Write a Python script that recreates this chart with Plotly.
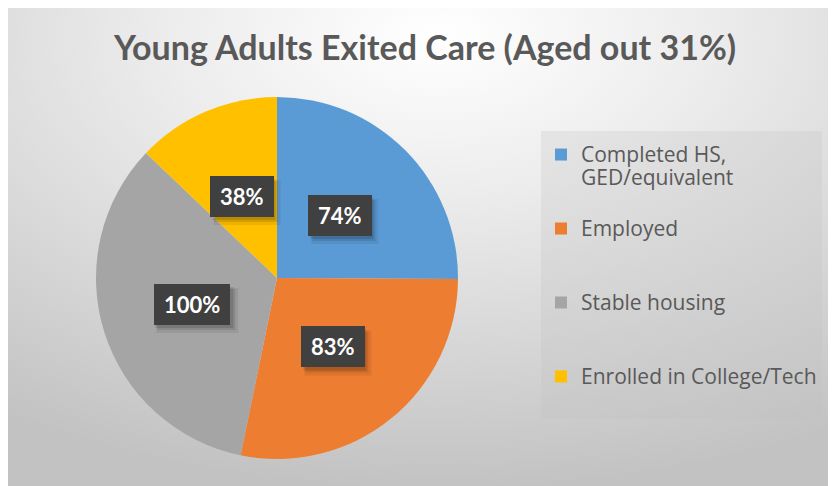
import math, base64
import plotly.graph_objects as go

# ---- data ----
categories = ["Completed HS,<br>GED/equivalent", "Employed", "Stable housing", "Enrolled in College/Tech"]
values = [74, 83, 100, 38]
value_labels = ["74%", "83%", "100%", "38%"]
colors = ["#5B9BD5", "#ED7D31", "#A5A5A5", "#FFC000"]
title_text = "Young Adults Exited Care (Aged out 31%)"

# page has an 8px body margin, so the figure is 8px smaller each way
W, H = 828, 478
blank_lines = [1, 2, 2, 1]


def legend_label(c, n):
    lines = c.split("<br>")
    styled = "<br>".join(f"<span style='font-size:21px'>{ln}</span>" for ln in lines)
    return styled + "<br> " * n


legend_labels = [legend_label(c, n) for c, n in zip(categories, blank_lines)]

# pie geometry (figure pixels)
cx, cy, R = 269, 270, 181
dom_x = [(cx - R) / W, (cx + R) / W]
dom_y = [(H - cy - R) / H, (H - cy + R) / H]

fig = go.Figure()
fig.add_trace(go.Pie(
    labels=legend_labels, values=values, sort=False, direction="clockwise", rotation=0,
    marker=dict(colors=colors, line=dict(width=0)),
    textinfo="none", hoverinfo="value",
    domain=dict(x=dom_x, y=dom_y),
))

# background radial gradient
svg = f'''<svg xmlns="http://www.w3.org/2000/svg" width="{W}" height="{H}" preserveAspectRatio="none">
<defs><radialGradient id="g" cx="52%" cy="6%" r="95%" fx="52%" fy="6%">
<stop offset="0" stop-color="#ffffff"/><stop offset="0.35" stop-color="#ececec"/>
<stop offset="1" stop-color="#c2c2c2"/></radialGradient></defs>
<rect width="100%" height="100%" fill="url(#g)"/></svg>'''
src = "data:image/svg+xml;base64," + base64.b64encode(svg.encode()).decode()
fig.add_layout_image(dict(source=src, xref="paper", yref="paper", x=0, y=1,
                          sizex=1, sizey=1, xanchor="left", yanchor="top",
                          sizing="stretch", layer="below"))

# data labels in boxes, positioned from slice mid-angles
total = sum(values)
cum = 0
annotations = []
shapes = []
for v, lab in zip(values, value_labels):
    mid = (cum + v / 2) / total * 2 * math.pi
    cum += v
    px = cx + 0.49 * R * math.sin(mid)
    py = (H - cy) + 0.49 * R * math.cos(mid)
    # soft drop shadow behind the label box
    hw = (18 + 15 * len(lab)) / 2
    hh = 41 / 2
    for (dx, dy, grow, op) in [(5, 6, 2, 0.07), (4, 5, 0, 0.10), (2, 3, 0, 0.12)]:
        shapes.append(dict(type="rect", xref="paper", yref="paper", layer="above",
                           x0=(px - hw + dx - grow) / W, x1=(px + hw + dx + grow) / W,
                           y0=(py - hh - dy - grow) / H, y1=(py + hh - dy + grow) / H,
                           line=dict(width=0), fillcolor=f"rgba(0,0,0,{op})"))
    annotations.append(dict(x=px / W, y=py / H, xref="paper", yref="paper", showarrow=False,
                            xanchor="center", yanchor="middle",
                            text=lab, borderpad=9, height=21, valign="middle", borderwidth=1,
                            bgcolor="#404040", bordercolor="#404040",
                            font=dict(family="Lato", size=22, color="white", weight="bold")))

fig.update_layout(
    width=W, height=H, margin=dict(l=0, r=0, t=0, b=0),
    paper_bgcolor="white",
    title=dict(text=title_text, x=417 / W, xanchor="center", y=1 - 40 / H, yanchor="middle",
               font=dict(family="Lato", size=34, color="#595959", weight="bold")),
    legend=dict(x=533 / W, y=1 - 123 / H, xanchor="left", yanchor="top",
                bgcolor="rgba(190,190,190,0.25)", valign="top", itemwidth=30,
                title=dict(text=" ", font=dict(size=4)),
                font=dict(family="Open Sans", size=18.2, color="#595959")),
    annotations=annotations,
    shapes=shapes,
)
fig.write_html("out.html")
